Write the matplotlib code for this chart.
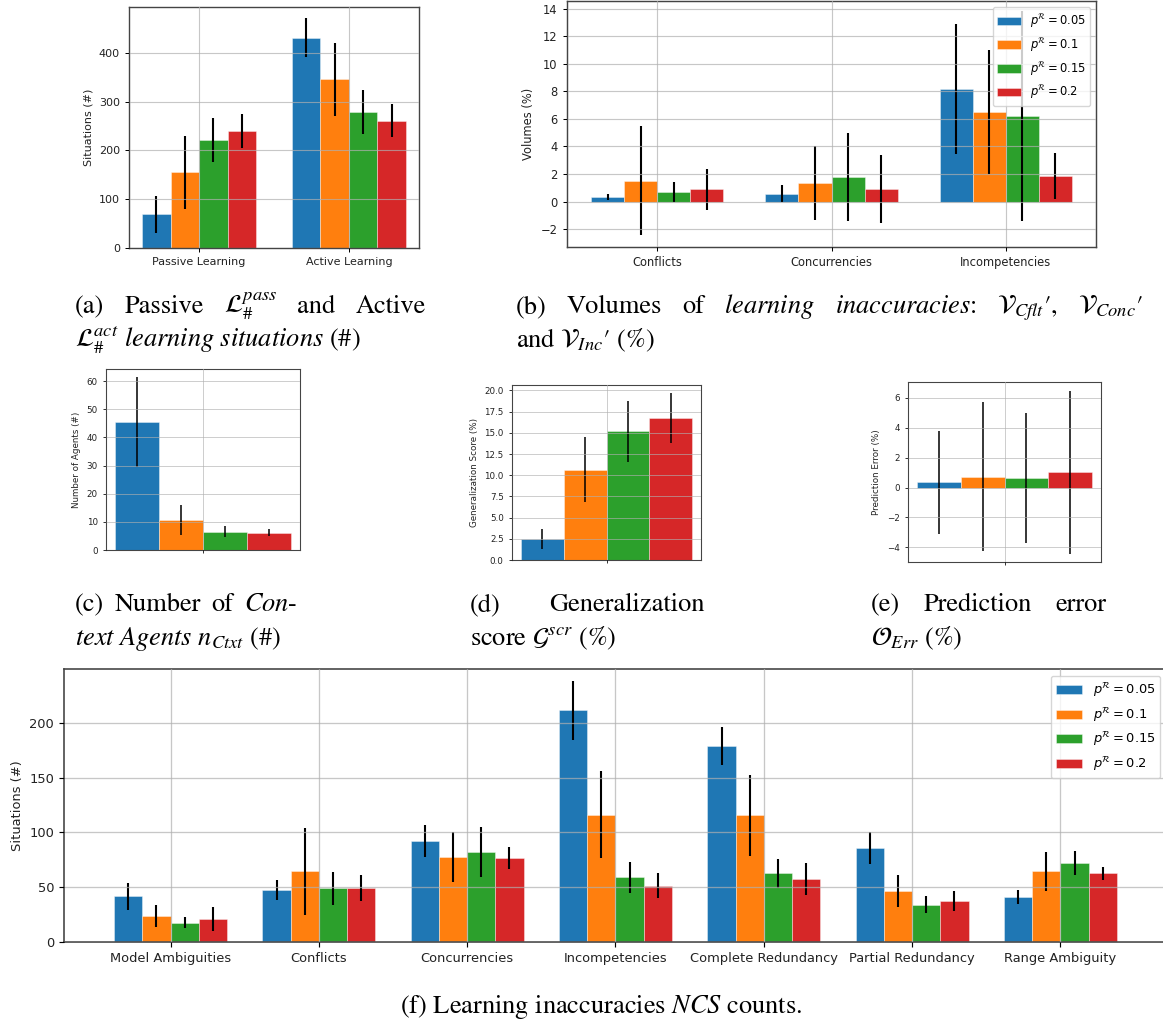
import numpy as np
import matplotlib.pyplot as plt

W, H = 1163, 1025

series = [r'$p^{\mathcal{R}} = 0.05$', r'$p^{\mathcal{R}} = 0.1$',
          r'$p^{\mathcal{R}} = 0.15$', r'$p^{\mathcal{R}} = 0.2$']
colors = ['#1f77b4', '#ff7f0e', '#2ca02c', '#d62728']

# (a) passive / active learning situations
learn_cats = ['Passive Learning', 'Active Learning']
learn_mean = [[69, 431], [155, 346], [221, 278], [240, 261]]
learn_err = [[38, 40], [75, 75], [45, 45], [35, 34]]

# (b) volumes of learning inaccuracies
vol_cats = ['Conflicts', 'Concurrencies', 'Incompetencies']
vol_mean = [[0.33, 0.58, 8.15], [1.52, 1.32, 6.47], [0.69, 1.79, 6.21], [0.88, 0.91, 1.88]]
vol_err = [[0.2, 0.64, 4.72], [3.98, 2.68, 4.5], [0.76, 3.18, 7.6], [1.5, 2.5, 1.67]]

# (c) number of context agents
ctx_mean = [45.4, 10.6, 6.5, 6.2]
ctx_err = [16.0, 5.3, 1.9, 1.15]

# (d) generalization score
gen_mean = [2.48, 10.65, 15.2, 16.75]
gen_err = [1.17, 3.83, 3.6, 2.95]

# (e) prediction error
pred_mean = [0.35, 0.74, 0.65, 1.02]
pred_err = [3.43, 4.98, 4.35, 5.46]

# (f) NCS counts
ncs_cats = ['Model Ambiguities', 'Conflicts', 'Concurrencies', 'Incompetencies',
            'Complete Redundancy', 'Partial Redundancy', 'Range Ambiguity']
ncs_mean = [[41.7, 47.2, 91.9, 211.6, 178.7, 86.1, 41.1],
            [23.7, 64.5, 77.3, 116.3, 115.7, 46.6, 64.5],
            [17.4, 49.0, 82.5, 59.0, 62.7, 34.1, 72.1],
            [21.0, 49.6, 76.4, 51.4, 57.5, 37.7, 62.7]]
ncs_err = [[12.3, 9.0, 14.6, 26.8, 17.2, 14.6, 6.5],
           [9.7, 40.0, 22.8, 40.0, 37.0, 14.3, 18.1],
           [5.0, 15.2, 22.8, 13.8, 13.0, 7.6, 10.8],
           [11.0, 12.0, 10.0, 11.3, 14.6, 9.1, 6.0]]

BAR_W = 0.19


def px_axes(fig, l, t, r, b):
    return fig.add_axes([l / W, 1 - b / H, (r - l) / W, (b - t) / H])


def draw_bars(ax, ncat, means, errs, fs, elw, ylim, ylabel, cats=None):
    x = np.arange(ncat)
    for i in range(4):
        ax.bar(x + (i - 1.5) * BAR_W, means[i], BAR_W, yerr=errs[i],
               color=colors[i], edgecolor=(1, 1, 1, 0.45), linewidth=0.6,
               error_kw=dict(ecolor='black', elinewidth=elw, capsize=0),
               label=series[i])
    ax.set_xticks(x)
    ax.set_xticklabels(cats if cats is not None else [''] * ncat)
    ax.set_ylim(*ylim)
    ax.grid(True, color='#b0b0b0', alpha=0.7, linewidth=0.8 * fs / 8)
    ax.set_axisbelow(False)
    ax.set_ylabel(ylabel, fontsize=fs, color='#222222')
    ax.tick_params(labelsize=fs, length=3.5 * fs / 9, width=0.8 * fs / 9,
                   labelcolor='#222222')
    for s in ax.spines.values():
        s.set_color('#444444')
        s.set_linewidth(1.0 * fs / 8)


fig = plt.figure(figsize=(W / 100, H / 100), dpi=100)

ax_a = px_axes(fig, 129, 7, 419, 248)
draw_bars(ax_a, 2, learn_mean, learn_err, 8, 1.5, (0, 494), 'Situations (#)', learn_cats)

ax_b = px_axes(fig, 567, 1, 1096, 247)
draw_bars(ax_b, 3, vol_mean, vol_err, 8.3, 1.5, (-3.3, 14.55), 'Volumes (%)', vol_cats)
ax_b.legend(loc='upper right', fontsize=8.3)

ax_c = px_axes(fig, 106, 369, 300, 550)
draw_bars(ax_c, 1, [[v] for v in ctx_mean], [[v] for v in ctx_err], 6.3, 1.1,
          (0, 64.3), 'Number of Agents (#)')

ax_d = px_axes(fig, 512, 385, 701, 560)
draw_bars(ax_d, 1, [[v] for v in gen_mean], [[v] for v in gen_err], 6.3, 1.1,
          (0, 20.64), 'Generalization Score (%)')

ax_e = px_axes(fig, 908, 382, 1101, 562)
draw_bars(ax_e, 1, [[v] for v in pred_mean], [[v] for v in pred_err], 6.3, 1.1,
          (-4.98, 7.07), 'Prediction Error (%)')

ax_f = px_axes(fig, 64, 669, 1167, 942)
draw_bars(ax_f, 7, ncs_mean, ncs_err, 9.4, 1.5, (0, 249.3), 'Situations (#)', ncs_cats)
ax_f.legend(loc='upper right', fontsize=9.4)

# captions (serif, LaTeX-like, first lines justified)
cap = dict(fontfamily='STIXGeneral', math_fontfamily='stix', fontsize=19,
           va='baseline', color='black')
renderer = fig.canvas.get_renderer()


def caption(x, y, s, ha='left'):
    return fig.text(x / W, 1 - y / H, s, ha=ha, **cap)


def caption_just(x0, x1, y, pieces):
    texts = [caption(x0, y, p) for p in pieces]
    widths = [t.get_window_extent(renderer).width for t in texts]
    gap = (x1 - x0 - sum(widths)) / (len(pieces) - 1)
    x = x0
    for t, w in zip(texts, widths):
        t.set_x(x / W)
        x += w + gap


P = '\u2032'
caption_just(75, 426, 313, ['(a)', 'Passive', r'$\mathcal{L}_{\#}^{pass}$', 'and', 'Active'])
caption(75, 347, r'$\mathcal{L}_{\#}^{act}$ $\mathit{learning\ situations}$ (#)')
caption_just(516, 1143, 313, ['(b)', 'Volumes', 'of', r'$\mathit{learning}$',
                              r'$\mathit{inaccuracies}$:',
                              r'$\mathcal{V}_{Cflt}$' + P + ',',
                              r'$\mathcal{V}_{Conc}$' + P])
caption(516, 347, r"and $\mathcal{V}_{Inc}$" + P + " (%)")
caption_just(75, 297, 611, ['(c)', 'Number', 'of', r'$\mathit{Con}$-'])
caption(75, 645, r'$\mathit{text\ Agents}$ $n_{Ctxt}$ (#)')
caption_just(470, 705, 611, ['(d)', 'Generalization'])
caption(470, 645, r'score $\mathcal{G}^{scr}$ (%)')
caption_just(871, 1106, 611, ['(e)', 'Prediction', 'error'])
caption(871, 645, r'$\mathcal{O}_{Err}$ (%)')
caption(601, 1013, r'(f) Learning inaccuracies $\mathit{NCS}$ counts.', ha='center')

fig.savefig('out.png', dpi=100)
